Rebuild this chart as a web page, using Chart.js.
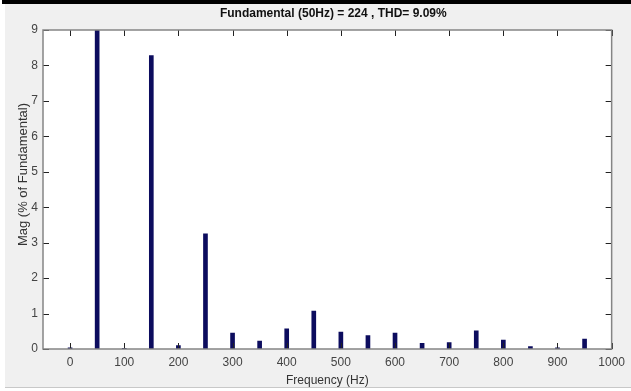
<!DOCTYPE html>
<html>
<head>
<meta charset="utf-8">
<script src="https://cdn.jsdelivr.net/npm/chart.js@4.4.1/dist/chart.umd.min.js"></script>
<style>
  html, body { margin: 0; padding: 0; background: #ffffff; }
  #wrap { width: 631px; height: 391px; position: relative; }
</style>
</head>
<body>
<div id="wrap"><canvas id="fft"></canvas></div>
<script>
// dados (harmonicos em % da fundamental)
const frequencies = [0, 50, 100, 150, 200, 250, 300, 350, 400, 450, 500, 550, 600, 650, 700, 750, 800, 850, 900, 950];
const magnitudes = [0.03, 100, 0.02, 8.28, 0.1, 3.25, 0.45, 0.22, 0.57, 1.07, 0.48, 0.38, 0.45, 0.16, 0.18, 0.51, 0.25, 0.07, 0.03, 0.28];
const xTicks = [0, 100, 200, 300, 400, 500, 600, 700, 800, 900, 1000];
const yTicks = [0, 1, 2, 3, 4, 5, 6, 7, 8, 9];
const titleText = "Fundamental (50Hz) = 224 , THD= 9.09%";
const yLabel = "Mag (% of Fundamental)";

const FONT = '"Liberation Sans", Arial, sans-serif';

// fundo estilo figura do MATLAB + moldura e ticks para dentro
const figurePlugin = {
    id: 'figure',
    beforeDraw(chart) {
        const c = chart.ctx;
        c.save();
        c.fillStyle = '#ffffff';
        c.fillRect(0, 0, chart.width, chart.height);
        c.fillStyle = '#f0f0f0';
        c.fillRect(5, 4, chart.width - 5, 384);
        c.fillStyle = '#c8c8c8';
        c.fillRect(5, 387, chart.width - 5, 1);
        c.fillStyle = '#000000';
        c.fillRect(2, 0, chart.width - 2, 4);
        const a = chart.chartArea;
        c.fillStyle = '#ffffff';
        c.fillRect(a.left, a.top, a.right - a.left, a.bottom - a.top);
        c.restore();
    },
    afterDraw(chart) {
        const c = chart.ctx;
        const a = chart.chartArea;
        const xs = chart.scales.x, ys = chart.scales.y;
        c.save();
        c.strokeStyle = '#222222';
        c.lineWidth = 1;
        c.beginPath();
        xTicks.forEach(v => {
            const px = Math.round(xs.getPixelForValue(v)) + 0.5;
            c.moveTo(px, a.bottom); c.lineTo(px, a.bottom - 6);
            c.moveTo(px, a.top); c.lineTo(px, a.top + 6);
        });
        yTicks.forEach(v => {
            const py = Math.round(ys.getPixelForValue(v)) + 0.5;
            c.moveTo(a.left, py); c.lineTo(a.left + 6, py);
            c.moveTo(a.right, py); c.lineTo(a.right - 6, py);
        });
        c.stroke();
        c.strokeStyle = '#858585';
        c.lineWidth = 1.5;
        c.strokeRect(a.left, a.top, a.right - a.left, a.bottom - a.top);
        // titulo
        c.fillStyle = '#111111';
        c.font = 'bold 12px ' + FONT;
        c.textAlign = 'center';
        c.textBaseline = 'middle';
        c.fillText(titleText, (a.left + a.right) / 2 + 6, 14);
        // rotulo do eixo y (um pouco acima do centro, como no original)
        c.fillStyle = '#333333';
        c.font = '13px ' + FONT;
        c.translate(23, (a.top + a.bottom) / 2 - 15);
        c.rotate(-Math.PI / 2);
        c.fillText(yLabel, 0, 0);
        c.restore();
    }
};

const ctx = document.getElementById('fft').getContext('2d');
new Chart(ctx, {
    type: 'bar',
    data: {
        datasets: [{
            data: frequencies.map((f, i) => ({ x: f, y: magnitudes[i] })),
            backgroundColor: '#0c0c5e',
            borderWidth: 0,
            barThickness: 4
        }]
    },
    options: {
        responsive: true, maintainAspectRatio: false, animation: false,
        layout: { padding: { top: 30, right: 13, left: 0, bottom: 0 } },
        plugins: { legend: { display: false }, tooltip: { enabled: false } },
        scales: {
            x: {
                type: 'linear', min: -50, max: 1000, offset: false,
                afterBuildTicks: s => { s.ticks = xTicks.map(v => ({ value: v })); },
                afterFit: s => { s.height = 42; },
                grid: { display: false, drawTicks: false },
                border: { display: false },
                ticks: { color: '#444444', padding: 6, callback: v => String(v), font: { family: FONT, size: 12 } },
                title: { display: true, text: 'Frequency (Hz)', color: '#333333', padding: { top: 0, bottom: 3 }, font: { family: FONT, size: 12 } }
            },
            y: {
                min: 0, max: 9,
                afterBuildTicks: s => { s.ticks = yTicks.map(v => ({ value: v })); },
                afterFit: s => { s.width = 43; },
                grid: { display: false, drawTicks: false },
                border: { display: false },
                ticks: { color: '#444444', padding: 5, callback: v => String(v), font: { family: FONT, size: 12 } },
                title: { display: false }
            }
        }
    },
    plugins: [figurePlugin]
});
</script>
</body>
</html>
